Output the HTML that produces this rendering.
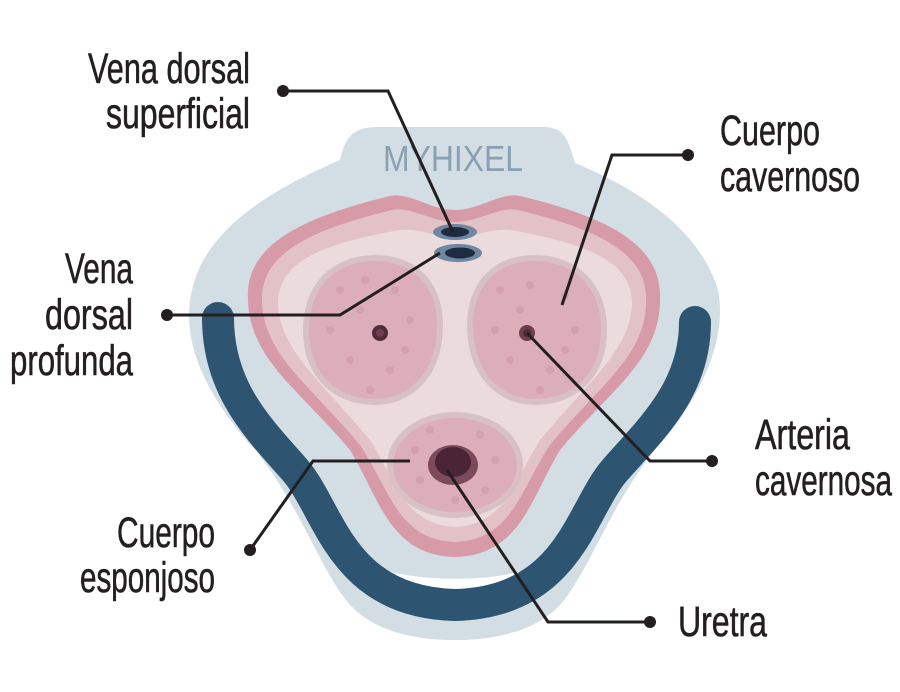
<!DOCTYPE html>
<html><head><meta charset="utf-8"><style>html,body{margin:0;padding:0;background:#fff}svg{display:block}</style></head>
<body>
<svg width="900" height="692" viewBox="0 0 900 692" xmlns="http://www.w3.org/2000/svg">
<path d="M340,160 C345,140 350,128 375,127 L545,127 C565,128 568,140 575,163 C640,190 700,230 718,290 C728,340 700,400 655,450 C610,505 590,570 560,605 C530,637 480,640 455,640 C430,640 380,637 350,605 C320,570 300,505 255,450 C205,395 180,340 192,290 C205,230 270,190 340,160 Z" fill="#d3dde4"/>
<path d="M360,560 C400,585 510,585 550,560 L545,580 C510,595 400,595 365,580 Z" fill="#fff"/>
<path d="M218,318 C218,390 260,430 295,470 C330,510 340,602 455,605 C570,602 580,510 615,470 C650,430 695,390 695,322" fill="none" stroke="#2d5571" stroke-width="32" stroke-linecap="round"/>
<path d="M248,300 C245,250 290,220 390,196 C410,192 430,210 455,210 C480,210 500,192 520,196 C620,220 662,250 660,300 C660,360 610,390 560,450 C530,500 520,555 455,557 C390,555 380,500 350,450 C300,390 250,360 248,300 Z" fill="#d69ba6"/>
<path d="M262,302 C260,258 300,232 392,210 C410,206 432,222 455,222 C478,222 500,206 518,210 C610,232 648,258 646,302 C646,355 600,385 550,445 C520,490 512,540 455,542 C398,540 390,490 360,445 C310,385 264,355 262,302 Z" fill="#e3c2c7"/>
<path d="M278,304 C278,262 320,244 400,230 C420,228 440,238 455,238 C470,238 490,228 510,230 C590,244 632,262 632,304 C630,350 590,380 540,440 C515,480 505,525 455,527 C405,525 395,480 370,440 C320,380 280,350 278,304 Z" fill="#ebdbdd"/>
<path d="M375,258 C420,258 440,290 440,325 C440,375 410,402 375,402 C335,402 306,375 306,330 C306,285 335,258 375,258 Z" fill="#dcaebb" stroke="#d8c1c5" stroke-width="6"/>
<path d="M535,258 C575,258 604,285 604,330 C604,375 575,402 535,402 C500,402 470,375 470,325 C470,290 490,258 535,258 Z" fill="#dcaebb" stroke="#d8c1c5" stroke-width="6"/>
<ellipse cx="455" cy="465" rx="65" ry="50" fill="#dcaebb" stroke="#d8c1c5" stroke-width="6"/>
<g fill="#d49fae">
<circle cx="340" cy="290" r="4"/><circle cx="365" cy="280" r="4"/><circle cx="395" cy="290" r="4"/><circle cx="410" cy="320" r="4"/><circle cx="330" cy="330" r="4"/><circle cx="350" cy="360" r="4"/><circle cx="390" cy="370" r="4"/><circle cx="360" cy="310" r="4"/><circle cx="405" cy="350" r="4"/><circle cx="370" cy="390" r="4"/>
<circle cx="500" cy="290" r="4"/><circle cx="530" cy="285" r="4"/><circle cx="565" cy="295" r="4"/><circle cx="575" cy="330" r="4"/><circle cx="495" cy="330" r="4"/><circle cx="510" cy="360" r="4"/><circle cx="550" cy="370" r="4"/><circle cx="565" cy="350" r="4"/><circle cx="520" cy="310" r="4"/><circle cx="540" cy="390" r="4"/>
<circle cx="415" cy="450" r="4"/><circle cx="430" cy="430" r="4"/><circle cx="480" cy="435" r="4"/><circle cx="495" cy="460" r="4"/><circle cx="420" cy="480" r="4"/><circle cx="485" cy="490" r="4"/><circle cx="455" cy="500" r="4"/>
</g>
<circle cx="380" cy="333" r="8" fill="#4f2b3a"/><circle cx="380" cy="333" r="4" fill="#6e3d50"/>
<circle cx="527" cy="333" r="8" fill="#6e3d50"/><circle cx="527" cy="333" r="4" fill="#4f2b3a"/>
<ellipse cx="453" cy="465" rx="25" ry="20" fill="#7d4a5c"/>
<ellipse cx="453" cy="462" rx="18" ry="15" fill="#4a2535"/>
<ellipse cx="455" cy="232" rx="22" ry="8" fill="#6f87a0"/><ellipse cx="455" cy="232" rx="14" ry="5" fill="#1e2c42"/>
<ellipse cx="458" cy="253" rx="24" ry="9" fill="#6f87a0"/><ellipse cx="460" cy="253" rx="15" ry="5.5" fill="#1e2c42"/>
<text x="383" y="171" font-family="Liberation Sans, sans-serif" font-size="36" fill="#8aa1b4" textLength="140" lengthAdjust="spacingAndGlyphs">MYHIXEL</text>
<g fill="none" stroke="#231f20" stroke-width="3">
<polyline points="283,91 388,91 453,232"/>
<polyline points="167,315 340,315 440,253"/>
<polyline points="688,155 612,155 562,305"/>
<polyline points="712,461 650,461 527,333"/>
<polyline points="250,550 313,461 410,461"/>
<polyline points="650,622 548,622 447,470"/>
</g>
<g fill="#231f20">
<circle cx="283" cy="91" r="6"/><circle cx="167" cy="315" r="6"/><circle cx="688" cy="155" r="6"/><circle cx="712" cy="461" r="6"/><circle cx="250" cy="550" r="6"/><circle cx="650" cy="622" r="6"/>
</g>
<g font-family="Liberation Sans, sans-serif" font-size="43" fill="#231f20" stroke="#231f20" stroke-width="0.6">
<text x="88" y="83" textLength="162" lengthAdjust="spacingAndGlyphs">Vena dorsal</text>
<text x="106" y="128" textLength="144" lengthAdjust="spacingAndGlyphs">superficial</text>
<text x="720" y="145" textLength="100" lengthAdjust="spacingAndGlyphs">Cuerpo</text>
<text x="720" y="191" textLength="140" lengthAdjust="spacingAndGlyphs">cavernoso</text>
<text x="65" y="283" textLength="68" lengthAdjust="spacingAndGlyphs">Vena</text>
<text x="45" y="329" textLength="88" lengthAdjust="spacingAndGlyphs">dorsal</text>
<text x="10" y="375" textLength="123" lengthAdjust="spacingAndGlyphs">profunda</text>
<text x="755" y="449" textLength="95" lengthAdjust="spacingAndGlyphs">Arteria</text>
<text x="755" y="495" textLength="137" lengthAdjust="spacingAndGlyphs">cavernosa</text>
<text x="117" y="547" textLength="98" lengthAdjust="spacingAndGlyphs">Cuerpo</text>
<text x="80" y="592" textLength="135" lengthAdjust="spacingAndGlyphs">esponjoso</text>
<text x="678" y="636" textLength="89" lengthAdjust="spacingAndGlyphs">Uretra</text>
</g>
</svg>
</body></html>
